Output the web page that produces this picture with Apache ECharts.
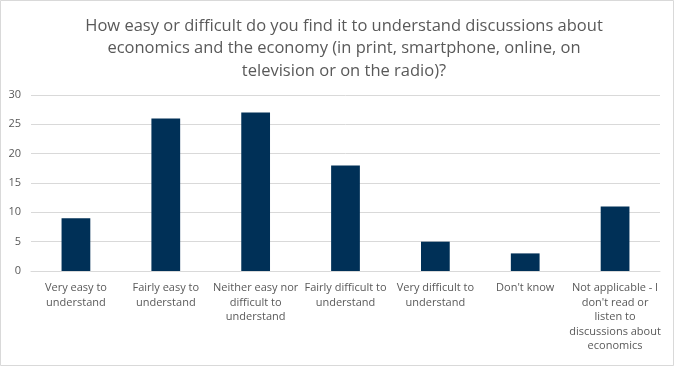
<!DOCTYPE html>
<html><head><meta charset="utf-8">
<script src="https://cdn.jsdelivr.net/npm/echarts@6/dist/echarts.min.js"></script>
<style>html,body{margin:0;padding:0;background:#fff}#c{width:678px;height:368px}</style>
</head><body><div id="c"></div>
<script>
const titleText = "How easy or difficult do you find it to understand discussions about\neconomics and the economy (in print, smartphone, online, on\ntelevision or on the radio)?";
const categories = [
  "Very easy to\nunderstand",
  "Fairly easy to\nunderstand",
  "Neither easy nor\ndifficult to\nunderstand",
  "Fairly difficult to\nunderstand",
  "Very difficult to\nunderstand",
  "Don't know",
  "Not applicable - I\ndon't read or\nlisten to\ndiscussions about\neconomics"
];
const values = [9, 26, 27, 18, 5, 3, 11];
const yTicks = { min: 0, max: 30, interval: 5 };

const font = "'Open Sans', 'Liberation Sans', sans-serif";
const chart = echarts.init(document.getElementById('c'), null, { renderer: 'canvas' });
chart.setOption({
  animation: false,
  backgroundColor: '#fff',
  textStyle: { fontFamily: font },
  title: {
    text: titleText, left: 339, top: 10, textAlign: 'center',
    textStyle: { fontFamily: font, fontSize: 16.5, fontWeight: 'normal', color: '#595959', lineHeight: 22.5 }
  },
  graphic: [{ type: 'rect', shape: { x: 0.5, y: 0.5, width: 673, height: 365 }, style: { fill: null, stroke: '#d9d9d9', lineWidth: 1 } }],
  grid: { left: 31, right: 18, top: 95, bottom: 97, containLabel: false },
  xAxis: {
    type: 'category', data: categories,
    axisLine: { lineStyle: { color: '#d9d9d9' } },
    axisTick: { show: false },
    axisLabel: { interval: 0, color: '#595959', fontSize: 11, lineHeight: 14.5, margin: 10, fontFamily: font }
  },
  yAxis: {
    type: 'value', min: yTicks.min, max: yTicks.max, interval: yTicks.interval,
    axisLine: { show: false }, axisTick: { show: false },
    splitLine: { lineStyle: { color: '#d9d9d9' } },
    axisLabel: { color: '#595959', fontSize: 11, margin: 10, fontFamily: font }
  },
  series: [{ type: 'bar', data: values, barWidth: '32%', itemStyle: { color: '#003057' } }]
});
</script></body></html>
